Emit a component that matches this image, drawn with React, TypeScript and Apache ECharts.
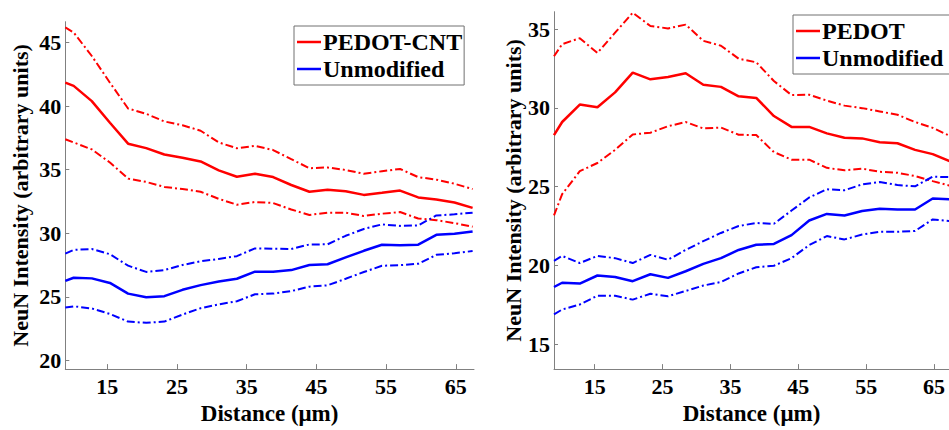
import React, { useEffect, useRef } from "react";
import * as echarts from "echarts";

// Distance (µm) sample positions shared by both panels
const distance = [9, 10.2, 12.8, 15.4, 18.0, 20.6, 23.2, 25.8, 28.4, 31.0, 33.6, 36.2, 38.8, 41.4, 44.0, 46.6, 49.2, 51.8, 54.4, 57.0, 59.6, 62.2, 64.8, 67.4];

// Left panel: PEDOT-CNT vs Unmodified
const cntMean = [41.85, 41.6, 40.4, 38.7, 37.05, 36.7, 36.2, 35.95, 35.65, 34.95, 34.45, 34.68, 34.42, 33.8, 33.27, 33.42, 33.3, 33.02, 33.18, 33.36, 32.82, 32.65, 32.42, 32.0];
const cntUpper = [46.2, 45.8, 43.95, 41.85, 39.82, 39.4, 38.8, 38.5, 38.07, 37.15, 36.69, 36.88, 36.55, 35.83, 35.12, 35.18, 34.98, 34.68, 34.88, 35.06, 34.42, 34.22, 33.9, 33.48];
const cntLower = [37.4, 37.15, 36.6, 35.57, 34.3, 34.04, 33.65, 33.48, 33.27, 32.71, 32.25, 32.46, 32.38, 31.87, 31.44, 31.62, 31.62, 31.36, 31.54, 31.67, 31.16, 31.03, 30.8, 30.52];
const unmMeanL = [26.25, 26.5, 26.45, 26.09, 25.25, 24.97, 25.05, 25.55, 25.92, 26.2, 26.42, 26.98, 26.98, 27.1, 27.5, 27.56, 28.1, 28.62, 29.1, 29.05, 29.1, 29.88, 29.96, 30.14];
const unmUpperL = [28.4, 28.69, 28.76, 28.35, 27.45, 26.96, 27.1, 27.5, 27.8, 27.98, 28.2, 28.81, 28.78, 28.76, 29.12, 29.13, 29.8, 30.34, 30.7, 30.58, 30.62, 31.4, 31.49, 31.62];
const unmLowerL = [24.15, 24.25, 24.08, 23.65, 23.05, 22.95, 23.05, 23.6, 24.1, 24.4, 24.65, 25.2, 25.25, 25.45, 25.8, 25.9, 26.42, 26.95, 27.44, 27.49, 27.6, 28.3, 28.43, 28.6];

// Right panel: PEDOT vs Unmodified
const pedotMean = [28.27, 29.1, 30.21, 30.04, 30.98, 32.23, 31.81, 31.96, 32.19, 31.46, 31.33, 30.73, 30.63, 29.48, 28.79, 28.79, 28.38, 28.1, 28.06, 27.82, 27.75, 27.33, 27.06, 26.6];
const pedotUpper = [33.27, 34.04, 34.42, 33.48, 34.77, 36.04, 35.19, 35.04, 35.28, 34.25, 33.94, 33.12, 32.89, 31.7, 30.81, 30.83, 30.46, 30.14, 29.98, 29.77, 29.56, 29.1, 28.73, 28.2];
const pedotLower = [23.17, 24.52, 25.98, 26.5, 27.33, 28.31, 28.42, 28.83, 29.1, 28.69, 28.75, 28.29, 28.27, 27.19, 26.71, 26.71, 26.19, 26.04, 26.14, 25.94, 25.88, 25.67, 25.35, 25.05];
const unmMeanR = [18.63, 18.9, 18.85, 19.36, 19.27, 19.0, 19.44, 19.21, 19.63, 20.1, 20.46, 20.98, 21.31, 21.36, 21.92, 22.85, 23.27, 23.17, 23.45, 23.6, 23.55, 23.55, 24.25, 24.2];
const unmUpperR = [20.29, 20.6, 20.15, 20.6, 20.46, 20.15, 20.67, 20.36, 20.98, 21.54, 22.06, 22.5, 22.69, 22.64, 23.48, 24.31, 24.83, 24.77, 25.14, 25.29, 25.1, 25.02, 25.63, 25.6];
const unmLowerR = [16.9, 17.2, 17.52, 18.08, 18.08, 17.83, 18.2, 18.04, 18.38, 18.72, 18.95, 19.49, 19.88, 19.98, 20.46, 21.29, 21.86, 21.65, 21.96, 22.13, 22.13, 22.19, 22.92, 22.81];

// Tick labels
const xTicks = [15, 25, 35, 45, 55, 65];
const yTicksLeft = [20, 25, 30, 35, 40, 45];
const yTicksRight = [15, 20, 25, 30, 35];

const RED = "#ff0000";
const BLUE = "#0000ff";
const FONT = "'Liberation Serif', 'Times New Roman', serif";
const AXIS_GRAY = "#808080";

const pairs = (ys: number[]) => distance.map((x, i) => [x, ys[i]]);

function lineSeries(name: string, ys: number[], color: string, idx: number, dashed: boolean) {
  return {
    name,
    type: "line",
    xAxisIndex: idx,
    yAxisIndex: idx,
    data: pairs(ys),
    showSymbol: false,
    symbol: "none",
    clip: true,
    lineStyle: dashed
      ? { color, width: 2, type: [8, 3, 2, 3] }
      : { color, width: 2.5, type: "solid" },
    itemStyle: { color },
    z: dashed ? 2 : 3,
  };
}

function xAxisCfg(idx: number, min: number, max: number, nameGap: number) {
  return {
    type: "value",
    gridIndex: idx,
    min,
    max,
    name: "Distance (\u03bcm)",
    nameLocation: "middle",
    nameGap,
    nameTextStyle: { fontFamily: FONT, fontWeight: "bold", fontSize: 23, color: "#000" },
    axisLine: { show: true, lineStyle: { color: AXIS_GRAY, width: 1 } },
    axisTick: { show: true, inside: true, length: 5, customValues: xTicks, lineStyle: { color: AXIS_GRAY } },
    axisLabel: { customValues: xTicks, fontFamily: FONT, fontWeight: "bold", fontSize: 22, color: "#000", margin: 6 },
    splitLine: { show: false },
  };
}

function yAxisCfg(idx: number, min: number, max: number, ticks: number[], nameGap: number) {
  return {
    type: "value",
    gridIndex: idx,
    min,
    max,
    name: "NeuN Intensity (arbitrary units)",
    nameLocation: "middle",
    nameGap,
    nameRotate: 90,
    nameTextStyle: { fontFamily: FONT, fontWeight: "bold", fontSize: 22, color: "#000" },
    axisLine: { show: true, lineStyle: { color: AXIS_GRAY, width: 1 } },
    axisTick: { show: true, inside: true, length: 4, customValues: ticks, lineStyle: { color: AXIS_GRAY } },
    axisLabel: { customValues: ticks, fontFamily: FONT, fontWeight: "bold", fontSize: 22, color: "#000", margin: 4 },
    splitLine: { show: false },
  };
}

function legendCfg(left: number, top: number, names: string[]) {
  return {
    left,
    top,
    orient: "vertical",
    data: names,
    icon: "rect",
    itemWidth: 24,
    itemHeight: 2.5,
    itemGap: 3,
    padding: [4, 2, 4, 3],
    backgroundColor: "#fff",
    borderColor: "#707070",
    borderWidth: 1,
    borderRadius: 0,
    selectedMode: false,
    textStyle: { fontFamily: FONT, fontWeight: "bold", fontSize: 24, color: "#000", lineHeight: 24, padding: [0, 0, 0, -3] },
  };
}

export default function App() {
  const ref = useRef<HTMLDivElement>(null);
  useEffect(() => {
    if (!ref.current) return;
    const chart = echarts.init(ref.current, undefined, { renderer: "svg" });
    chart.setOption({
      animation: false,
      backgroundColor: "#fff",
      grid: [
        { left: 65.3, top: 21.7, width: 408.7, height: 357.6 },
        { left: 554, top: 11.7, width: 395, height: 362.6 },
      ],
      xAxis: [xAxisCfg(0, 9, 67.6, 26), xAxisCfg(1, 9, 67.2, 27)],
      yAxis: [yAxisCfg(0, 19.31, 46.65, yTicksLeft, 34), yAxisCfg(1, 13.42, 36.1, yTicksRight, 29)],
      legend: [
        legendCfg(294, 26, ["PEDOT-CNT", "Unmodified"]),
        legendCfg(793, 15, ["PEDOT", "Unmodified "]),
      ],
      series: [
        lineSeries("PEDOT-CNT upper", cntUpper, RED, 0, true),
        lineSeries("PEDOT-CNT lower", cntLower, RED, 0, true),
        lineSeries("Unmodified upper", unmUpperL, BLUE, 0, true),
        lineSeries("Unmodified lower", unmLowerL, BLUE, 0, true),
        lineSeries("PEDOT-CNT", cntMean, RED, 0, false),
        lineSeries("Unmodified", unmMeanL, BLUE, 0, false),
        lineSeries("PEDOT upper", pedotUpper, RED, 1, true),
        lineSeries("PEDOT lower", pedotLower, RED, 1, true),
        lineSeries("Unmodified upper ", unmUpperR, BLUE, 1, true),
        lineSeries("Unmodified lower ", unmLowerR, BLUE, 1, true),
        lineSeries("PEDOT", pedotMean, RED, 1, false),
        lineSeries("Unmodified ", unmMeanR, BLUE, 1, false),
      ],
    });
    return () => chart.dispose();
  }, []);
  return (
    <div
      ref={ref}
      style={{ position: "absolute", left: 0, top: 0, width: 949, height: 430, overflow: "hidden" }}
    />
  );
}
